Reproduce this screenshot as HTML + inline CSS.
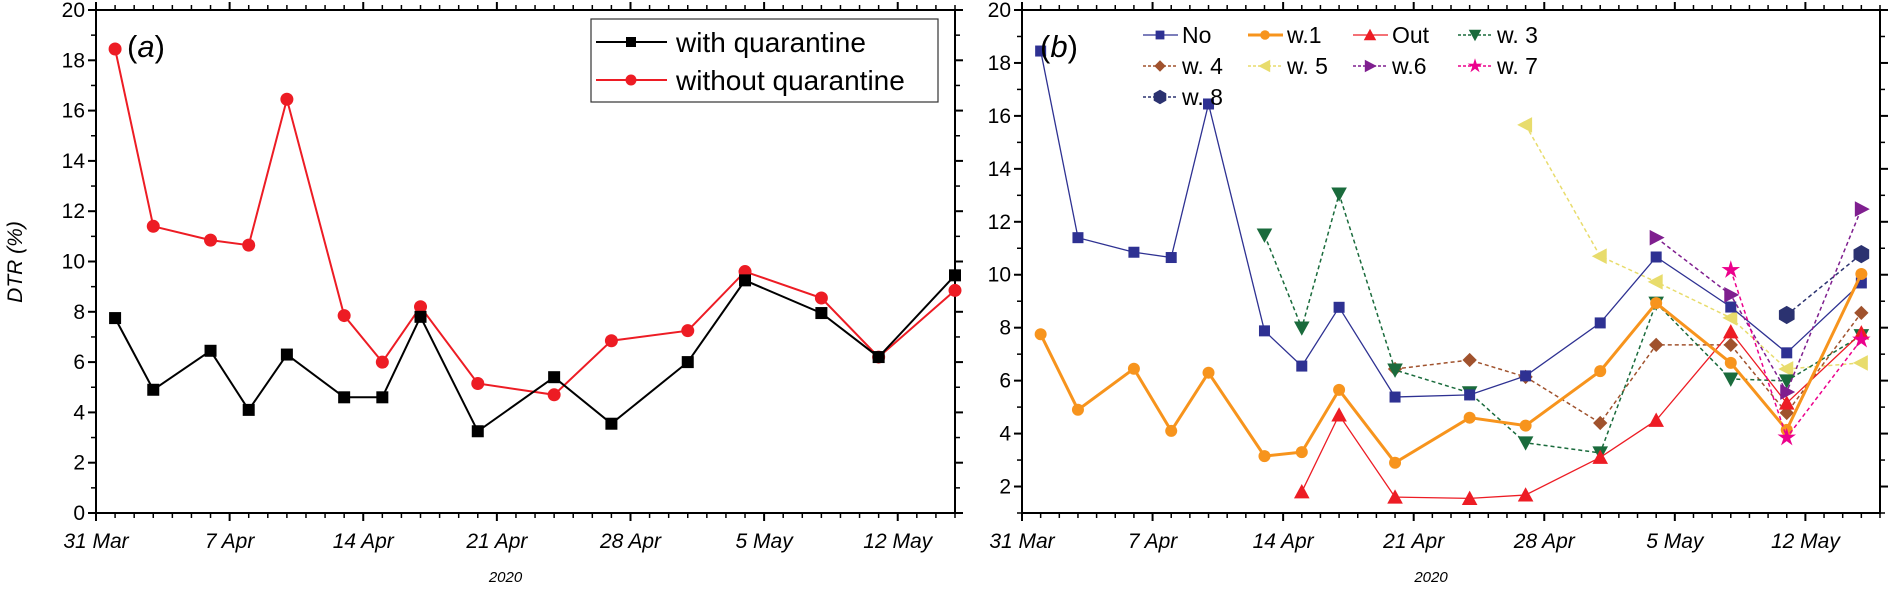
<!DOCTYPE html>
<html><head><meta charset="utf-8">
<style>
body{margin:0;background:#fff;}
svg{display:block;font-family:"Liberation Sans",Arial,sans-serif;}
</style></head>
<body>
<svg id="chart" width="1890" height="600" viewBox="0 0 1890 600"></svg>
<script>
// ---------- data ----------
const dayTicks = [0,7,14,21,28,35,42];
const dayTickLabels = ["31 Mar","7 Apr","14 Apr","21 Apr","28 Apr","5 May","12 May"];
const aDays = [1,3,6,8,10,13,15,17,20,24,27,31,34,38,41,45];
const aWith = [7.75,4.9,6.45,4.1,6.3,4.6,4.6,7.8,3.25,5.4,3.55,6.0,9.25,7.95,6.2,9.45];
const aWithout = [18.45,11.4,10.85,10.65,16.45,7.85,6.0,8.2,5.15,4.7,6.85,7.25,9.6,8.55,6.2,8.85];
const aYTicks = [0,2,4,6,8,10,12,14,16,18,20];
const bYTicks = [2,4,6,8,10,12,14,16,18,20];

const noDays = [1,3,6,8,10,13,15,17,20,24,27,31,34,38,41,45];
const noVals = [18.45,11.4,10.85,10.65,16.45,7.88,6.55,8.77,5.38,5.46,6.18,8.18,10.67,8.78,7.05,9.69];
const w1Days = [1,3,6,8,10,13,15,17,20,24,27,31,34,38,41,45];
const w1Vals = [7.75,4.9,6.45,4.1,6.3,3.15,3.3,5.65,2.9,4.6,4.3,6.36,8.93,6.67,4.14,10.03];
const outDays = [15,17,20,24,27,31,34,38,41,45];
const outVals = [1.8,4.7,1.6,1.55,1.68,3.1,4.5,7.84,5.15,7.8];
const w3Days = [13,15,17,20,24,27,31,34,38,41,45];
const w3Vals = [11.5,7.99,13.05,6.4,5.54,3.65,3.27,8.93,6.06,5.99,7.7];
const w4Days = [20,24,27,31,34,38,41,45];
const w4Vals = [6.44,6.78,6.14,4.4,7.35,7.35,4.78,8.56];
const w5Days = [27,31,34,38,41,45];
const w5Vals = [15.66,10.7,9.73,8.37,6.44,6.67];
const w6Days = [34,38,41,45];
const w6Vals = [11.4,9.24,5.57,12.48];
const w7Days = [38,41,45];
const w7Vals = [10.18,3.85,7.55];
const w8Days = [41,45];
const w8Vals = [8.48,10.78];

// ---------- helpers ----------
const NS="http://www.w3.org/2000/svg";
const svg=document.getElementById('chart');
function mk(tag,attrs,parent){const e=document.createElementNS(NS,tag);for(const k in attrs)e.setAttribute(k,attrs[k]);(parent||svg).appendChild(e);return e;}

// panel geometry
const PA={x0:96,x1:955,y0:10,y1:513,dmax:45,vmin:0,vmax:20};
const PB={x0:1022,x1:1880,y0:10,y1:513,dmax:46,vmin:1,vmax:20};
function sx(p,d){return p.x0+(p.x1-p.x0)*d/p.dmax;}
function sy(p,v){return p.y1-(p.y1-p.y0)*(v-p.vmin)/(p.vmax-p.vmin);}

function axes(p,yTicks,name){
  const g=mk('g',{});
  
  
  mk('rect',{x:p.x0,y:p.y0,width:p.x1-p.x0,height:p.y1-p.y0,fill:'none',stroke:'#000','stroke-width':2},g);
  // x ticks every day
  for(let d=0;d<=p.dmax;d++){
    const x=sx(p,d);const major=(d%7===0);const L=major?8:5;
    mk('line',{x1:x,x2:x,y1:p.y1,y2:p.y1+L,stroke:'#000','stroke-width':major?2:1.5},g);
    mk('line',{x1:x,x2:x,y1:p.y0,y2:p.y0-L,stroke:'#000','stroke-width':major?2:1.5},g);
  }
  dayTicks.forEach((d,i)=>{
    const t=mk('text',{x:sx(p,d),y:548,'text-anchor':'middle','font-size':21,'font-style':'italic',fill:'#000'},g);
    t.textContent=dayTickLabels[i];
    
    
  });
  // y ticks
  for(let v=Math.ceil(p.vmin);v<=p.vmax;v++){
    const y=sy(p,v);const major=yTicks.indexOf(v)>=0;const L=major?8:5;
    mk('line',{x1:p.x0-L,x2:p.x0,y1:y,y2:y,stroke:'#000','stroke-width':major?2:1.5},g);
    mk('line',{x1:p.x1,x2:p.x1+L,y1:y,y2:y,stroke:'#000','stroke-width':major?2:1.5},g);
  }
  yTicks.forEach(v=>{
    const t=mk('text',{x:p.x0-11,y:sy(p,v)+7,'text-anchor':'end','font-size':21,fill:'#000'},g);
    t.textContent=String(v);
    
    
  });
  const xl=mk('text',{x:(p.x0+p.x1)/2-20,y:582,'text-anchor':'middle','font-size':15,'font-style':'italic',fill:'#000'},g);
  xl.textContent='2020';
  
  
}

function marker(g,shape,x,y,color,s){
  s=s||6;
  if(shape==='square')return mk('rect',{x:x-s,y:y-s,width:2*s,height:2*s,fill:color},g);
  if(shape==='circle')return mk('circle',{cx:x,cy:y,r:s,fill:color},g);
  if(shape==='up')return mk('polygon',{points:`${x},${y-s*1.2} ${x-s*1.2},${y+s} ${x+s*1.2},${y+s}`,fill:color},g);
  if(shape==='down')return mk('polygon',{points:`${x},${y+s*1.2} ${x-s*1.2},${y-s} ${x+s*1.2},${y-s}`,fill:color},g);
  if(shape==='diamond')return mk('polygon',{points:`${x},${y-s*1.3} ${x+s*1.3},${y} ${x},${y+s*1.3} ${x-s*1.3},${y}`,fill:color},g);
  if(shape==='left')return mk('polygon',{points:`${x-s*1.3},${y} ${x+s},${y-s*1.2} ${x+s},${y+s*1.2}`,fill:color},g);
  if(shape==='right')return mk('polygon',{points:`${x+s*1.3},${y} ${x-s},${y-s*1.2} ${x-s},${y+s*1.2}`,fill:color},g);
  if(shape==='star'){let pts=[];for(let i=0;i<10;i++){const r=i%2?s*0.55:s*1.5;const a=-Math.PI/2+i*Math.PI/5;pts.push((x+r*Math.cos(a)).toFixed(1)+','+(y+r*Math.sin(a)).toFixed(1));}return mk('polygon',{points:pts.join(' '),fill:color},g);}
  if(shape==='hex'){let pts=[];for(let i=0;i<6;i++){const a=-Math.PI/2+i*Math.PI/3;pts.push((x+s*1.4*Math.cos(a)).toFixed(1)+','+(y+s*1.4*Math.sin(a)).toFixed(1));}return mk('polygon',{points:pts.join(' '),fill:color},g);}
}

function series(p,days,vals,opt,name){
  const g=mk('g',{});
  
  
  const pts=days.map((d,i)=>sx(p,d).toFixed(1)+','+sy(p,vals[i]).toFixed(1)).join(' ');
  const pl=mk('polyline',{points:pts,fill:'none',stroke:opt.color,'stroke-width':opt.w||1.5});
  g.appendChild(pl);
  if(opt.dash)pl.setAttribute('stroke-dasharray',opt.dash);
  days.forEach((d,i)=>{
    const m=marker(g,opt.shape,sx(p,d),sy(p,vals[i]),opt.mcolor||opt.color,opt.s);
    
    
  });
}

// ---------- panel a ----------
axes(PA,aYTicks,'panel-a');
series(PA,aDays,aWithout,{color:'#ed1c24',w:2,shape:'circle',s:6.5},'without-quarantine-line');
series(PA,aDays,aWith,{color:'#000',w:2,shape:'square',s:6},'with-quarantine-line');

const la=mk('g',{});


mk('rect',{x:591,y:19,width:347,height:83,fill:'#fff',stroke:'#333','stroke-width':1.2},la);
mk('line',{x1:596,x2:667,y1:42,y2:42,stroke:'#000','stroke-width':2},la);
marker(la,'square',631,42,'#000',5);
mk('line',{x1:596,x2:667,y1:80,y2:80,stroke:'#ed1c24','stroke-width':2},la);
marker(la,'circle',631,80,'#ed1c24',5.5);
let t=mk('text',{x:676,y:52,'font-size':28,fill:'#000'},la);t.textContent='with quarantine';


t=mk('text',{x:676,y:90,'font-size':28,fill:'#000'},la);t.textContent='without quarantine';



t=mk('text',{x:127,y:57,'font-size':31,fill:'#000'});
t.innerHTML='(<tspan font-style="italic">a</tspan>)';



t=mk('text',{x:0,y:0,'font-size':21,'font-style':'italic',fill:'#000','text-anchor':'middle',transform:'translate(22,262) rotate(-90)'});
t.textContent='DTR (%)';



// ---------- panel b ----------
axes(PB,bYTicks,'panel-b');
const S={
 no:{color:'#2e3192',w:1.3,shape:'square',s:5.5},
 w1:{color:'#f7941d',w:3,shape:'circle',s:6},
 out:{color:'#ed1c24',w:1.3,shape:'up',s:6.5},
 w3:{color:'#1a6b3c',w:1.5,dash:'4,3',shape:'down',s:6.5},
 w4:{color:'#a0522d',w:1.5,dash:'4,3',shape:'diamond',s:5.5},
 w5:{color:'#e8dc6c',w:1.5,dash:'4,3',shape:'left',s:6.5},
 w6:{color:'#7f1f8f',w:1.5,dash:'4,3',shape:'right',s:6.5},
 w7:{color:'#ec008c',w:1.5,dash:'4,3',shape:'star',s:6.5},
 w8:{color:'#2b3270',w:1.5,dash:'4,3',shape:'hex',s:6.5}
};
series(PB,w5Days,w5Vals,S.w5,'w5-line');
series(PB,w4Days,w4Vals,S.w4,'w4-line');
series(PB,w3Days,w3Vals,S.w3,'w3-line');
series(PB,noDays,noVals,S.no,'no-line');
series(PB,outDays,outVals,S.out,'out-line');
series(PB,w1Days,w1Vals,S.w1,'w1-line');
series(PB,w6Days,w6Vals,S.w6,'w6-line');
series(PB,w7Days,w7Vals,S.w7,'w7-line');
series(PB,w8Days,w8Vals,S.w8,'w8-line');

const legB=[['No','no',1143,35],['w.1','w1',1248,35],['Out','out',1353,35],['w. 3','w3',1458,35],
            ['w. 4','w4',1143,66],['w. 5','w5',1248,66],['w.6','w6',1353,66],['w. 7','w7',1458,66],
            ['w. 8','w8',1143,97]];
const lb=mk('g',{});


legB.forEach(e=>{
  const o=S[e[1]];
  const ln=mk('line',{x1:e[2],x2:e[2]+35,y1:e[3],y2:e[3],stroke:o.color,'stroke-width':o.w},lb);
  if(o.dash)ln.setAttribute('stroke-dasharray','3,2');
  marker(lb,o.shape,e[2]+17,e[3],o.color,o.s*0.8);
  const tt=mk('text',{x:e[2]+39,y:e[3]+8,'font-size':23,fill:'#000'},lb);
  tt.textContent=e[0];
  
  
});

t=mk('text',{x:1040,y:57,'font-size':31,fill:'#000'});
t.innerHTML='(<tspan font-style="italic">b</tspan>)';


</script>
</body></html>
